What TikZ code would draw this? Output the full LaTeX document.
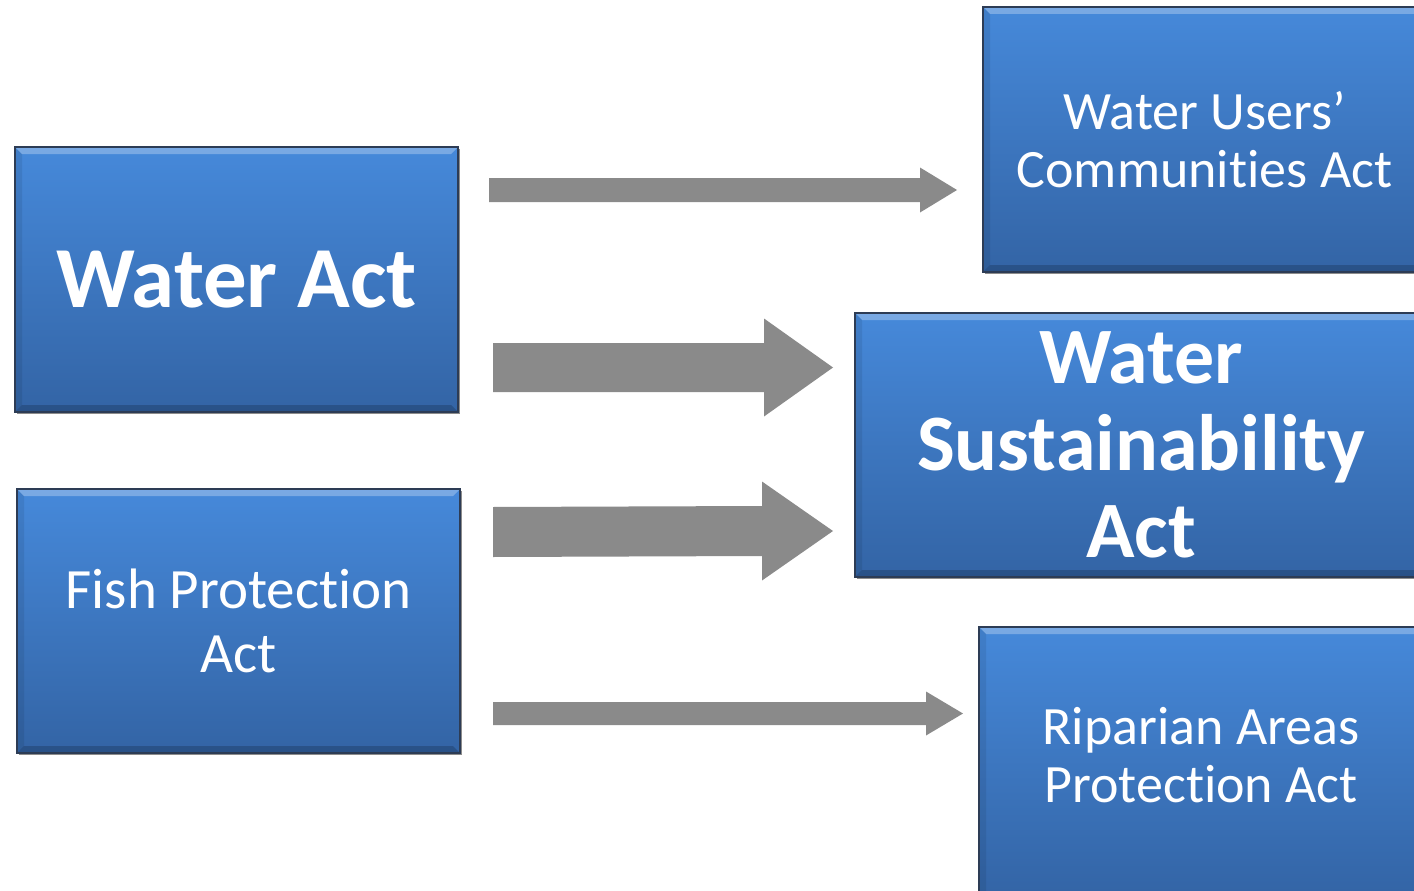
\documentclass[tikz,border=0pt]{standalone}
\usepackage{fontspec}
\setmainfont{Carlito}[RawFeature=-liga]
\usetikzlibrary{calc,shadows}
\definecolor{boxtop}{RGB}{70,137,218}
\definecolor{boxbot}{RGB}{51,100,165}
\definecolor{boxedge}{RGB}{45,60,85}
\definecolor{arrowgray}{RGB}{138,138,138}
\tikzset{
  actbox/.style={rectangle, anchor=north west, inner sep=0pt, outer sep=0pt,
    top color=boxtop, bottom color=boxbot, draw=boxedge, line width=1.2pt,
    text=white, align=center,
    drop shadow={shadow xshift=2pt, shadow yshift=-2pt, opacity=0.45, fill=black},
    path picture={
      \fill[white,opacity=0.28] (path picture bounding box.north west) -- (path picture bounding box.north east) -- ++(-7,7) -- ($(path picture bounding box.north west)+(7,7)$) -- cycle;
      \fill[black,opacity=0.18] (path picture bounding box.south west) -- (path picture bounding box.south east) -- ++(-7,-7) -- ($(path picture bounding box.south west)+(7,-7)$) -- cycle;
      \fill[black,opacity=0.08] (path picture bounding box.north west) -- (path picture bounding box.south west) -- ++(7,-7) -- ($(path picture bounding box.north west)+(7,7)$) -- cycle;
    }},
  bigfont/.style={font=\fontsize{87}{96}\selectfont\bfseries},
  wsafont/.style={font=\fontsize{80}{87}\selectfont\bfseries},
  midfont/.style={font=\fontsize{57}{64}\selectfont},
  smallfont/.style={font=\fontsize{54}{58}\selectfont},
}
\newcommand\fatarrow[5]{%
  \fill[arrowgray] ($(#1)+(0,-#3)$) -- ($(#2)+(-#5,-#3)$) -- ($(#2)+(-#5,-#4)$) -- (#2)
    -- ($(#2)+(-#5,#4)$) -- ($(#2)+(-#5,#3)$) -- ($(#1)+(0,#3)$) -- cycle;}
\begin{document}
\begin{tikzpicture}[x=1pt,y=-1pt]
\useasboundingbox (0,0) rectangle (1414,891);
\clip (0,0) rectangle (1414,891);
\fill[white] (0,0) rectangle (1414,891);

\node[actbox, bigfont, minimum width=443pt, minimum height=265pt] (wa) at (15,147) {Water Act};
\node[actbox, midfont, minimum width=443pt, minimum height=264pt] (fpa) at (17,489) {Fish Protection\\Act};
\node[actbox, smallfont, minimum width=443pt, minimum height=265pt] (wuca) at (983,7) {Water Users’\\Communities Act};
\node[actbox, wsafont, minimum width=572pt, minimum height=264pt] (wsa) at (855,313) {Water\\Sustainability\\Act};
\node[actbox, smallfont, minimum width=444pt, minimum height=272pt] (rapa) at (979,627) {Riparian Areas\\Protection Act\\[-60pt]\strut};

\coordinate (a1s) at (489,190);
\coordinate (a1t) at (957,190);
\coordinate (a2s) at (493,367.5);
\coordinate (a2t) at (833,367.5);
\coordinate (a3s) at (493,532);
\coordinate (a3t) at (833,531);
\coordinate (a4s) at (493,713.5);
\coordinate (a4t) at (963,713.5);

\fatarrow{a1s}{a1t}{12}{22.5}{37}
\fatarrow{a2s}{a2t}{24.5}{49}{69}
\fatarrow{a3s}{a3t}{25}{49.5}{71}
\fatarrow{a4s}{a4t}{11.5}{22}{37}
\end{tikzpicture}
\end{document}
